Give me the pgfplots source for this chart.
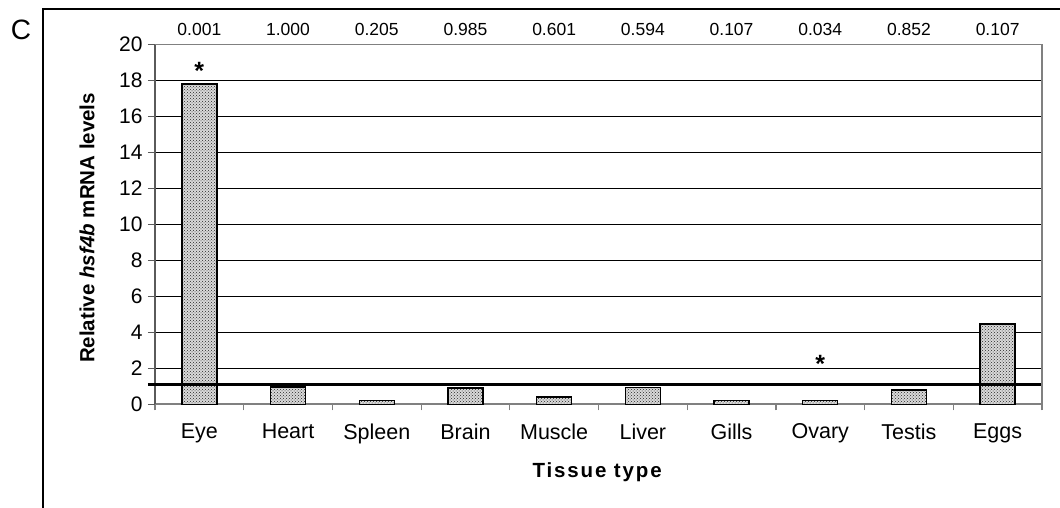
\documentclass[border=0pt]{standalone}
\usepackage{fontspec}
\setmainfont{Liberation Sans}
\usepackage{pgfplots}
\pgfplotsset{compat=1.18}
\usetikzlibrary{patterns}

\definecolor{framegray}{RGB}{128,128,128}
\definecolor{axisgray}{RGB}{90,90,90}

\begin{document}
\begin{tikzpicture}[x=1pt,y=1pt]
\begin{axis}[
  scale only axis,
  width=887pt, height=360pt,
  xmin=-0.5, xmax=9.5, ymin=0, ymax=20,
  axis lines=left,
  axis line style={-},
  x axis line style={framegray, line width=1.6pt},
  y axis line style={axisgray, line width=1.4pt},
  xtick={0,...,9},
  xticklabels={Eye,Heart,Spleen,Brain,Muscle,Liver,Gills,Ovary,Testis,Eggs},
  major x tick style={draw=none},
  minor xtick={-0.5,0.5,...,9.5},
  minor x tick style={framegray, line width=1.2pt},
  minor tick length=6pt,
  ytick={0,2,...,20},
  major tick length=7pt,
  y tick style={axisgray, line width=1.2pt},
  tick align=outside,
  /pgf/number format/assume math mode=true,
  ymajorgrids,
  grid style={black, line width=0.9pt},
  xticklabel style={font=\fontsize{21.5}{24}\selectfont, yshift=-9pt},
  yticklabel style={font=\fontsize{21}{24}\selectfont, xshift=-2pt},
  xlabel={\addfontfeature{LetterSpace=9}Tissue type},
  ylabel={Relative \textit{hsf4b} mRNA levels},
  label style={font=\bfseries\fontsize{20.5}{24}\selectfont},
  xlabel style={at={(axis description cs:0.4985,-0.188)}, anchor=center},
  ylabel style={at={(axis description cs:-0.0767,0.49)}, anchor=center},
  ybar, bar width=35pt,
  clip=false,
]
% relative expression per tissue
\addplot[draw=black, line width=1.4pt, fill=gray!30,
  postaction={pattern=crosshatch dots, pattern color=black!85}]
  coordinates {(0,17.8) (1,0.95) (2,0.2) (3,0.9) (4,0.4)
               (5,0.93) (6,0.2) (7,0.2) (8,0.8) (9,4.45)};

% reference level
\draw[black, line width=3.6pt] (axis cs:-0.58,1.1) -- (axis cs:9.5,1.1);

% plot frame (top and right)
\draw[framegray, line width=1.3pt] (rel axis cs:0,1) -- (rel axis cs:1,1) -- (rel axis cs:1,0);

% p-values
\begin{scope}[every node/.style={font=\fontsize{17.5}{20}\selectfont}]
\node at (axis cs:0,20.85) {0.001};
\node at (axis cs:1,20.85) {1.000};
\node at (axis cs:2,20.85) {0.205};
\node at (axis cs:3,20.85) {0.985};
\node at (axis cs:4,20.85) {0.601};
\node at (axis cs:5,20.85) {0.594};
\node at (axis cs:6,20.85) {0.107};
\node at (axis cs:7,20.85) {0.034};
\node at (axis cs:8,20.85) {0.852};
\node at (axis cs:9,20.85) {0.107};
\end{scope}

% significance marks
\node[font=\bfseries\fontsize{25}{28}\selectfont, yshift=-6pt] at (axis cs:0,18.85) {*};
\node[font=\bfseries\fontsize{25}{28}\selectfont, yshift=-6pt] at (axis cs:7,2.57) {*};
\end{axis}

% panel frame and letter
\draw[black, line width=1.5pt] (-112,-120) -- (-112,395.3) -- (920,395.3);
\node[font=\fontsize{28}{30}\selectfont] at (-134,374.3) {C};

\pgfresetboundingbox
\path[use as bounding box] (-155,-103.7) rectangle (905,404.3);
\end{tikzpicture}
\end{document}
